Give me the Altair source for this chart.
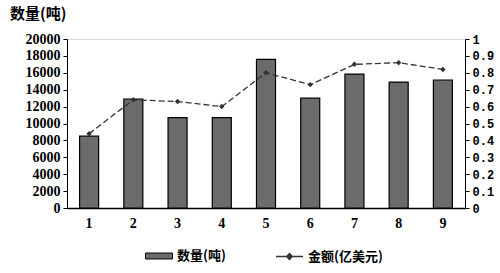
import altair as alt
import pandas as pd

months = ["1", "2", "3", "4", "5", "6", "7", "8", "9"]
qty = [8500, 12900, 10700, 10700, 17600, 13000, 15850, 14900, 15150]
amount = [0.44, 0.64, 0.63, 0.60, 0.80, 0.73, 0.85, 0.86, 0.82]
qty_label = "数量(吨)"
amt_label = "金额(亿美元)"

df = pd.DataFrame({"m": months, "qty": qty, "amt": amount,
                   "l1": [qty_label] * 9, "l2": [amt_label] * 9})

num_font = "Liberation Serif"
cjk = "Noto Sans CJK SC"

x = alt.X("m:O", sort=months, title=None,
          scale=alt.Scale(paddingInner=0.57, paddingOuter=0.285),
          axis=alt.Axis(labelAngle=0, ticks=False, labelFont=num_font, labelFontWeight="bold",
                        labelFontSize=14, labelColor="black", labelPadding=8,
                        domainColor="black", domainWidth=1.5))

bars = alt.Chart(df).mark_bar(stroke="black", strokeWidth=1.2).encode(
    x=x,
    y=alt.Y("qty:Q", title=None,
            scale=alt.Scale(domain=[0, 20000]),
            axis=alt.Axis(values=list(range(0, 20001, 2000)), format="d", grid=False,
                          labelFont=num_font,
                          labelFontWeight="bold", labelFontSize=14, labelColor="black",
                          tickColor="black", tickSize=4, domainColor="black", labelPadding=3)),
    fill=alt.Fill("l1:N", scale=alt.Scale(domain=[qty_label], range=["#6b6b6b"]),
                  legend=alt.Legend(orient="none", legendX=78, legendY=203, title=None,
                                    symbolType="M-1,-0.22L1,-0.22L1,0.22L-1,0.22Z",
                                    symbolSize=729, symbolStrokeColor="black", symbolStrokeWidth=1,
                                    labelFont=cjk, labelFontWeight="bold", labelFontSize=13,
                                    labelColor="black", padding=0, labelOffset=4)),
)

yr = alt.Y("amt:Q", title=None, scale=alt.Scale(domain=[0, 1]),
           axis=alt.Axis(orient="right", values=[i / 10 for i in range(11)], grid=False,
                         labelExpr="datum.value == 0 ? '0' : datum.value == 1 ? '1' : format(datum.value, '.1f')",
                         labelFont="Liberation Mono", labelFontWeight="bold", labelFontSize=12,
                         labelColor="black", tickColor="black", tickSize=4,
                         domainColor="black", labelPadding=3))

base = alt.Chart(df).encode(x=x, y=yr)
line = base.mark_line(strokeDash=[6, 3], strokeWidth=1.3).encode(
    stroke=alt.Stroke("l2:N", scale=alt.Scale(domain=[amt_label], range=["#333333"]),
                      legend=alt.Legend(orient="none", legendX=208, legendY=203, title=None,
                                        symbolType="M-1,0L1,0M0,-0.22L0.22,0L0,0.22L-0.22,0Z",
                                        symbolSize=729, symbolFillColor="#333333",
                                        symbolStrokeWidth=1.3,
                                        labelFont=cjk, labelFontWeight="bold", labelFontSize=13,
                                        labelColor="black", padding=0, labelOffset=4)),
)
pts = base.mark_point(shape="diamond", filled=True, size=30, color="#333333", opacity=1)

right = alt.layer(line, pts)

chart = alt.layer(bars, right).resolve_scale(y="independent").properties(
    width=398, height=169,
    autosize=alt.AutoSizeParams(type="none"),
    padding={"left": 67, "top": 39, "right": 35, "bottom": 65},
    title=alt.TitleParams(qty_label, anchor="start", frame="group", dx=-57, offset=10,
                          font=cjk, fontWeight="bold", fontSize=15, color="black"),
).configure_view(fill="#f4f4f4", stroke="#999999", strokeWidth=1).configure(background="white")

chart.save("out.html", embed_options={"renderer": "svg", "actions": False})
